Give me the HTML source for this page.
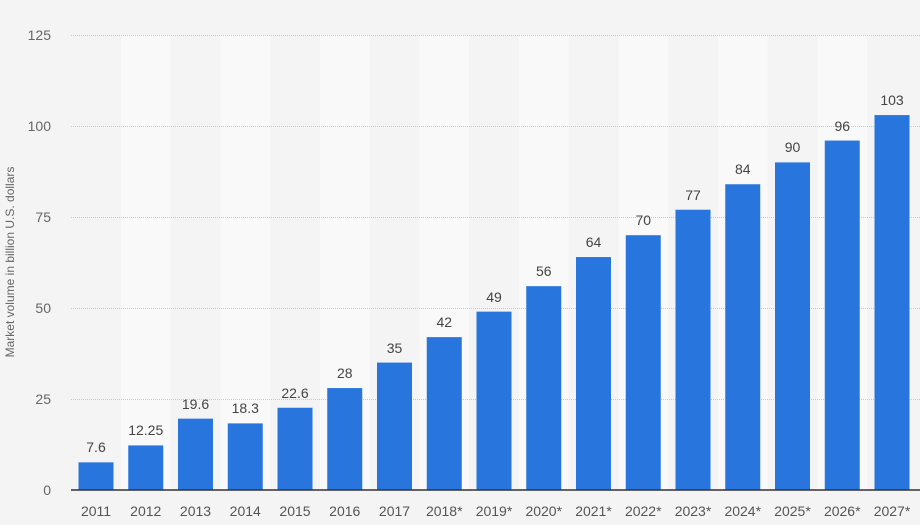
<!DOCTYPE html>
<html><head><style>body{margin:0;background:#f4f4f4}</style></head><body>
<svg width="920" height="525" xmlns="http://www.w3.org/2000/svg" font-family="Liberation Sans, sans-serif" style="display:block">
<rect width="920" height="525" fill="#f4f4f4"/>
<g fill="#f9f9f9">
<rect x="120.9" y="35" width="49.75" height="455"/><rect x="220.4" y="35" width="49.75" height="455"/><rect x="319.9" y="35" width="49.75" height="455"/><rect x="419.4" y="35" width="49.75" height="455"/><rect x="518.9" y="35" width="49.75" height="455"/><rect x="618.4" y="35" width="49.75" height="455"/><rect x="717.9" y="35" width="49.75" height="455"/><rect x="817.4" y="35" width="49.75" height="455"/>
</g>
<g stroke="#c8c8c8" stroke-dasharray="1,1" stroke-width="1">
<line x1="71" x2="920" y1="35.5" y2="35.5"/><line x1="71" x2="920" y1="126.5" y2="126.5"/><line x1="71" x2="920" y1="217.5" y2="217.5"/><line x1="71" x2="920" y1="308.5" y2="308.5"/><line x1="71" x2="920" y1="399.5" y2="399.5"/>
</g>
<g fill="#666" font-size="14" text-anchor="end">
<text x="51" y="40">125</text><text x="51" y="131">100</text><text x="51" y="222">75</text><text x="51" y="313">50</text><text x="51" y="404">25</text><text x="51" y="495">0</text>
</g>
<text transform="translate(14,262) rotate(-90)" font-size="12" fill="#666" text-anchor="middle">Market volume in billion U.S. dollars</text>
<g fill="#2876dd">
<rect x="78.5" y="462.34" width="35" height="27.66"/>
<rect x="128.25" y="445.41" width="35" height="44.59"/>
<rect x="178" y="418.66" width="35" height="71.34"/>
<rect x="227.75" y="423.39" width="35" height="66.61"/>
<rect x="277.5" y="407.74" width="35" height="82.26"/>
<rect x="327.25" y="388.08" width="35" height="101.92"/>
<rect x="377" y="362.6" width="35" height="127.4"/>
<rect x="426.75" y="337.12" width="35" height="152.88"/>
<rect x="476.5" y="311.64" width="35" height="178.36"/>
<rect x="526.25" y="286.16" width="35" height="203.84"/>
<rect x="576" y="257.04" width="35" height="232.96"/>
<rect x="625.75" y="235.2" width="35" height="254.8"/>
<rect x="675.5" y="209.72" width="35" height="280.28"/>
<rect x="725.25" y="184.24" width="35" height="305.76"/>
<rect x="775" y="162.4" width="35" height="327.6"/>
<rect x="824.75" y="140.56" width="35" height="349.44"/>
<rect x="874.5" y="115.08" width="35" height="374.92"/>
</g>
<g fill="#444" font-size="14" text-anchor="middle">
<text x="96" y="452">7.6</text>
<text x="145.75" y="435">12.25</text>
<text x="195.5" y="409">19.6</text>
<text x="245.25" y="413">18.3</text>
<text x="295" y="398">22.6</text>
<text x="344.75" y="378">28</text>
<text x="394.5" y="353">35</text>
<text x="444.25" y="327">42</text>
<text x="494" y="302">49</text>
<text x="543.75" y="276">56</text>
<text x="593.5" y="247">64</text>
<text x="643.25" y="225">70</text>
<text x="693" y="200">77</text>
<text x="742.75" y="174">84</text>
<text x="792.5" y="152">90</text>
<text x="842.25" y="131">96</text>
<text x="892" y="105">103</text>
</g>
<g fill="#555" font-size="14" text-anchor="middle">
<text x="96" y="516">2011</text><text x="145.75" y="516">2012</text><text x="195.5" y="516">2013</text><text x="245.25" y="516">2014</text><text x="295" y="516">2015</text><text x="344.75" y="516">2016</text><text x="394.5" y="516">2017</text><text x="444.25" y="516">2018*</text><text x="494" y="516">2019*</text><text x="543.75" y="516">2020*</text><text x="593.5" y="516">2021*</text><text x="643.25" y="516">2022*</text><text x="693" y="516">2023*</text><text x="742.75" y="516">2024*</text><text x="792.5" y="516">2025*</text><text x="842.25" y="516">2026*</text><text x="892" y="516">2027*</text>
</g>
<line x1="71" x2="920" y1="490" y2="490" stroke="#333" stroke-width="1.5"/>
</svg>
</body></html>
